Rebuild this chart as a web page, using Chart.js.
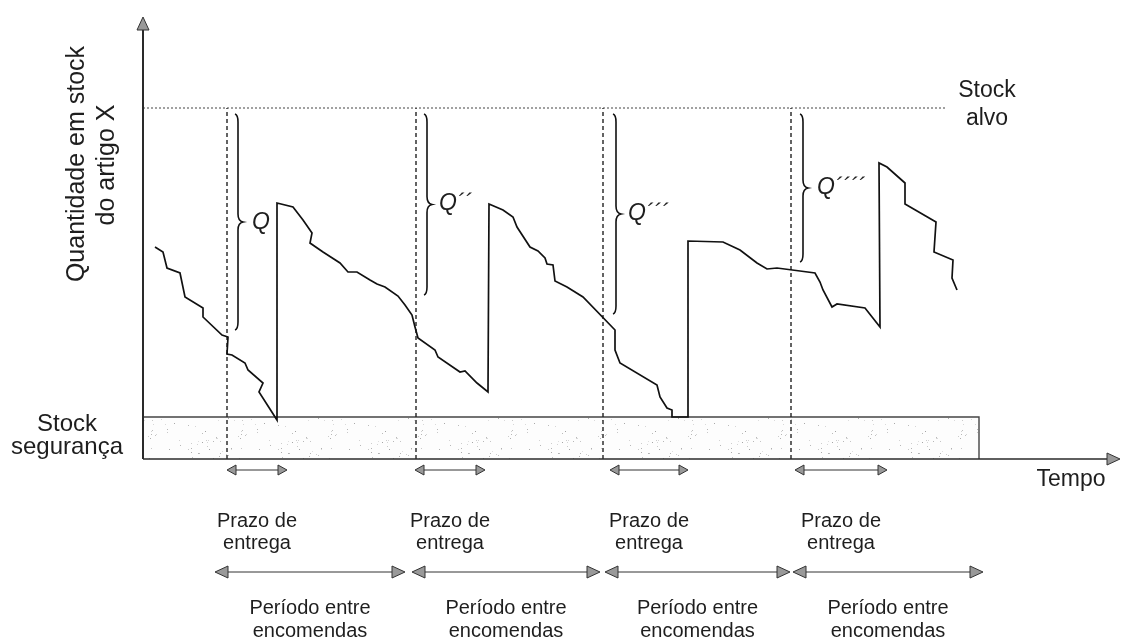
<!DOCTYPE html>
<html><head><meta charset="utf-8">
<script src="https://cdn.jsdelivr.net/npm/chart.js@4/dist/chart.umd.min.js"></script>
<style>html,body{margin:0;padding:0;background:#fff}#wrap{width:1124px;height:642px}</style>
</head><body><div id="wrap"><canvas id="c" width="1124" height="642"></canvas></div>
<script>
// ---- data (time units, stock units) ----
const stockTime = [1.2,2.0,2.4,3.7,4.2,6.0,6.0,7.9,8.5,8.4,8.9,10.2,10.5,12.0,11.6,13.4,13.4,
  15.0,16.0,16.9,16.7,18.0,19.7,20.5,21.4,22.7,23.4,24.2,25.5,26.2,26.9,27.2,27.5,29.2,29.5,31.7,32.2,33.4,34.5,34.6,
  36.0,37.0,37.4,38.7,39.5,40.2,40.4,41.0,41.2,42.4,44.0,47.2,47.2,47.7,51.4,51.7,52.4,52.9,52.9,54.5,54.5,
  58.0,59.7,61.4,62.4,63.4,65.7,67.2,67.7,68.0,68.9,69.4,72.2,73.7,73.6,
  74.4,76.2,76.2,79.3,79.1,81.0,80.9,81.4];
const stockQty = [21.2,20.7,19.1,18.6,16.2,15.1,14.2,12.4,12.2,10.5,10.4,9.6,8.9,7.6,6.7,3.9,25.6,
  25.2,23.9,22.6,21.6,20.7,19.6,18.7,18.7,17.9,17.5,17.2,16.3,15.4,14.4,13.2,12.1,10.9,10.2,8.7,8.8,7.6,6.7,25.5,
  24.9,24.2,23.2,21.2,20.8,20.1,19.5,19.4,17.8,17.2,16.2,12.9,10.9,9.6,7.4,6.2,5.1,4.9,4.2,4.2,21.8,
  21.7,20.9,19.6,19.0,19.1,18.8,18.6,17.7,16.9,15.2,15.5,15.1,13.2,29.6,
  29.2,27.6,25.5,23.7,20.7,19.9,18.1,16.9];
const targetStock = 35.1, targetEnd = 80.3;
const safetyStock = 4.2, safetyEnd = 83.6;
const orderTimes = [8.4, 27.3, 46.0, 64.8];
const qLabels = ['Q', 'Q´´', 'Q´´´', 'Q´´´´'];
const braceTime = [9.5, 28.4, 47.3, 66.0];
const braceTop = 34.5;
const braceBottom = [12.9, 16.4, 14.5, 19.7];
const qLabelTime = [10.9, 29.6, 48.5, 67.4];
const qLabelQty = [23.6, 25.5, 24.5, 27.1];
const leadStart = [8.4, 27.2, 46.7, 65.2];
const leadEnd = [14.4, 34.2, 54.5, 74.4];
const periodStart = [7.2, 26.9, 46.2, 65.0];
const periodEnd = [26.2, 45.7, 64.7, 84.0];
const leadLabel = ['Prazo de', 'entrega'];
const periodLabel = ['Período entre', 'encomendas'];
const yTitle = ['Quantidade em stock', 'do artigo X'];
const targetLabel = ['Stock', 'alvo'];
const safetyLabel = ['Stock', 'segurança'];
const xTitle = 'Tempo';
const timeMax = 97.7, qtyMax = 44.2;

const FONT = '"Liberation Sans", Arial, Helvetica, sans-serif';
const INK = '#1e1e1e';

const stockPts = stockTime.map((t, i) => ({x: t, y: stockQty[i]}));
const datasets = [
  {data: stockPts, borderColor: '#111', borderWidth: 1.7},
  {data: [{x: 0, y: targetStock}, {x: targetEnd, y: targetStock}], borderColor: '#444', borderWidth: 1, borderDash: [2, 2]}
];
orderTimes.forEach(t => datasets.push({data: [{x: t, y: 0}, {x: t, y: targetStock}], borderColor: '#222', borderWidth: 1.4, borderDash: [4, 3]}));
datasets.forEach(d => { d.showLine = true; d.pointRadius = 0; d.fill = false; d.tension = 0; });

function makePattern(ctx) {
  const pc = document.createElement('canvas'); pc.width = 90; pc.height = 42;
  const p = pc.getContext('2d');
  p.fillStyle = '#fdfdfd'; p.fillRect(0, 0, 90, 42);
  let s = 12345;
  const rnd = () => { s = (s * 1103515245 + 12345) % 2147483648; return s / 2147483648; };
  for (let i = 0; i < 55; i++) {
    const g = 165 + Math.floor(rnd() * 60);
    p.fillStyle = `rgb(${g},${g},${g})`;
    p.fillRect(Math.floor(rnd() * 90), Math.floor(rnd() * 42), 1, 1);
  }
  return ctx.createPattern(pc, 'repeat');
}

function head(ctx, x, y, dir, len, half) {
  ctx.beginPath();
  ctx.moveTo(x, y);
  ctx.lineTo(x - dir * len, y - half);
  ctx.lineTo(x - dir * len, y + half);
  ctx.closePath();
  ctx.fillStyle = '#999'; ctx.fill();
  ctx.strokeStyle = '#333'; ctx.lineWidth = 1; ctx.stroke();
}
function headV(ctx, x, y, len, half) {
  ctx.beginPath();
  ctx.moveTo(x, y);
  ctx.lineTo(x - half, y + len);
  ctx.lineTo(x + half, y + len);
  ctx.closePath();
  ctx.fillStyle = '#999'; ctx.fill();
  ctx.strokeStyle = '#333'; ctx.lineWidth = 1; ctx.stroke();
}

const diagram = {
  id: 'diagram',
  beforeDatasetsDraw(chart) {
    const ctx = chart.ctx, xs = chart.scales.x, ys = chart.scales.y;
    const x0 = xs.getPixelForValue(0), x1 = xs.getPixelForValue(safetyEnd);
    const yt = ys.getPixelForValue(safetyStock), yb = ys.getPixelForValue(0);
    ctx.save();
    ctx.fillStyle = makePattern(ctx);
    ctx.fillRect(x0, yt, x1 - x0, yb - yt);
    ctx.strokeStyle = '#444'; ctx.lineWidth = 1.4;
    ctx.beginPath(); ctx.moveTo(x0, yt); ctx.lineTo(x1, yt); ctx.lineTo(x1, yb); ctx.stroke();
    ctx.restore();
  },
  afterDraw(chart) {
    const ctx = chart.ctx, xs = chart.scales.x, ys = chart.scales.y;
    const X = v => xs.getPixelForValue(v), Y = v => ys.getPixelForValue(v);
    ctx.save();
    // axes
    const ox = X(0), oy = Y(0);
    ctx.strokeStyle = '#2a2a2a'; ctx.lineWidth = 2;
    ctx.beginPath(); ctx.moveTo(ox, oy); ctx.lineTo(ox, Y(qtyMax) + 12); ctx.stroke();
    ctx.lineWidth = 1.6;
    ctx.beginPath(); ctx.moveTo(ox, oy); ctx.lineTo(X(timeMax) - 12, oy); ctx.stroke();
    headV(ctx, ox, Y(qtyMax), 13, 6);
    head(ctx, X(timeMax), oy, 1, 13, 6);

    // braces
    ctx.strokeStyle = '#111'; ctx.lineWidth = 1.6;
    braceTime.forEach((t, i) => {
      const x = X(t), top = Y(braceTop), bot = Y(braceBottom[i]), mid = (top + bot) / 2;
      ctx.beginPath();
      ctx.moveTo(x - 3, top);
      ctx.quadraticCurveTo(x, top + 1, x, top + 8);
      ctx.lineTo(x, mid - 8);
      ctx.quadraticCurveTo(x, mid - 1, x + 5, mid);
      ctx.quadraticCurveTo(x, mid + 1, x, mid + 8);
      ctx.lineTo(x, bot - 8);
      ctx.quadraticCurveTo(x, bot - 1, x - 3, bot);
      ctx.stroke();
    });
    // Q labels
    ctx.fillStyle = INK; ctx.textBaseline = 'middle'; ctx.textAlign = 'left';
    ctx.font = 'italic 23px ' + FONT;
    qLabels.forEach((q, i) => ctx.fillText(q, X(qLabelTime[i]), Y(qLabelQty[i])));

    // lead-time arrows
    ctx.textAlign = 'center';
    ctx.font = '20px ' + FONT;
    leadStart.forEach((s, i) => {
      const y = Y(-1.1), a = X(s), b = X(leadEnd[i]);
      ctx.strokeStyle = '#333'; ctx.lineWidth = 1;
      ctx.beginPath(); ctx.moveTo(a + 6, y); ctx.lineTo(b - 6, y); ctx.stroke();
      head(ctx, a, y, -1, 9, 5); head(ctx, b, y, 1, 9, 5);
      const c = (a + b) / 2;
      ctx.fillStyle = INK;
      ctx.fillText(leadLabel[0], c, Y(-6.2));
      ctx.fillText(leadLabel[1], c, Y(-8.4));
    });
    // period arrows
    periodStart.forEach((s, i) => {
      const y = Y(-11.3), a = X(s), b = X(periodEnd[i]);
      ctx.strokeStyle = '#333'; ctx.lineWidth = 1;
      ctx.beginPath(); ctx.moveTo(a + 8, y); ctx.lineTo(b - 8, y); ctx.stroke();
      head(ctx, a, y, -1, 13, 6); head(ctx, b, y, 1, 13, 6);
      const c = (a + b) / 2;
      ctx.fillStyle = INK;
      ctx.fillText(periodLabel[0], c, Y(-14.9));
      ctx.fillText(periodLabel[1], c, Y(-17.2));
    });

    // side labels
    ctx.fillStyle = INK;
    ctx.font = '23px ' + FONT;
    ctx.fillText(xTitle, X(92.8), Y(-2.1));
    ctx.fillText(targetLabel[0], X(84.4), Y(36.8));
    ctx.fillText(targetLabel[1], X(84.4), Y(34.0));
    ctx.font = '24px ' + FONT;
    ctx.fillText(safetyLabel[0], X(-7.6), Y(3.5));
    ctx.fillText(safetyLabel[1], X(-7.6), Y(1.2));

    // y title (rotated)
    ctx.translate(X(-6.6), Y(29.5));
    ctx.rotate(-Math.PI / 2);
    ctx.font = '25px ' + FONT;
    ctx.fillText(yTitle[0], 0, 0);
    ctx.fillText(yTitle[1], -1, 30);
    ctx.restore();
  }
};

new Chart(document.getElementById('c'), {
  type: 'scatter',
  data: {datasets},
  options: {
    responsive: false, animation: false,
    layout: {padding: {left: 143, top: 17, right: 4, bottom: 183}},
    scales: {
      x: {type: 'linear', min: 0, max: timeMax, display: false},
      y: {type: 'linear', min: 0, max: qtyMax, display: false}
    },
    plugins: {legend: {display: false}, tooltip: {enabled: false}}
  },
  plugins: [diagram]
});
</script></body></html>
